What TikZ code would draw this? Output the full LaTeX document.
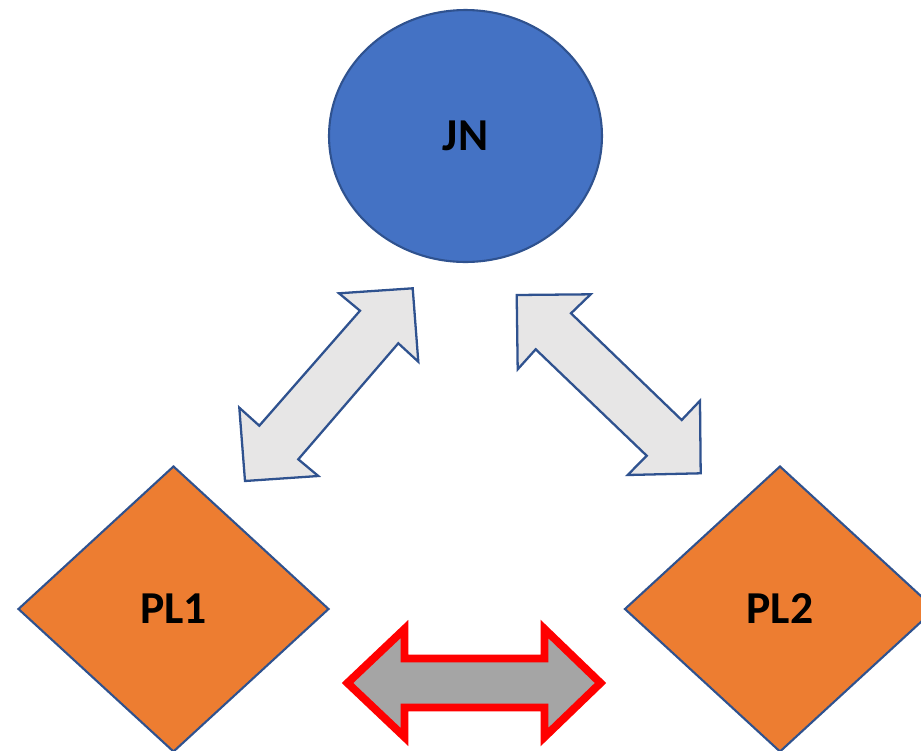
\documentclass[tikz,border=0pt]{standalone}
\usepackage{fontspec}
\setmainfont{Carlito}
\usetikzlibrary{shapes.geometric}
\definecolor{nodeblue}{HTML}{4472C4}
\definecolor{edgeblue}{HTML}{2F528F}
\definecolor{plorange}{HTML}{ED7D31}
\definecolor{arrowgray}{HTML}{E7E6E6}
\definecolor{linkgray}{HTML}{A5A5A5}
\begin{document}
\begin{tikzpicture}[x=0.02cm, y=-0.02cm,
    label text/.style={font=\fontsize{26}{31}\selectfont\bfseries},
    hub/.style={ellipse, draw=edgeblue, fill=nodeblue, line width=1.2pt,
        minimum width=5.46cm, minimum height=5.04cm, inner sep=0pt, label text},
    plnode/.style={diamond, draw=edgeblue, fill=plorange, line width=1.2pt,
        minimum width=6.22cm, minimum height=5.72cm, inner sep=0pt, label text},
    blockarrow/.style={draw=edgeblue, fill=arrowgray, line width=1.3pt, line join=miter},
    peerarrow/.style={draw=red, fill=linkgray, line width=4.5pt, line join=miter}]
    \clip (0,0) rectangle (921,751);

    % Upper node
    \node[hub] (jn) at (465.5,136) {JN};

    % Lower nodes
    \node[plnode] (pl1) at (173.5,609) {PL1};
    \node[plnode] (pl2) at (780,609) {PL2};

    % Arrow between JN and PL1
    \draw[blockarrow] (412.7,288.3) -- (339,293.3) -- (360,310.7) -- (259.3,425.7)
        -- (239.3,407.7) -- (245,481) -- (318.3,476) -- (298.3,459.3)
        -- (398.3,343.3) -- (418.3,361.7) -- cycle;

    % Arrow between JN and PL2
    \draw[blockarrow] (516.7,295) -- (590.7,294.3) -- (571,313.3) -- (681.7,420)
        -- (700,400.7) -- (700.7,473.3) -- (627.7,475) -- (646.7,455.7)
        -- (535.7,349.3) -- (517.7,369.3) -- cycle;

    % Link between PL1 and PL2
    \draw[peerarrow] (347.5,683) -- (404.5,629) -- (404.5,658.5) -- (544.5,658.5)
        -- (544.5,629) -- (600.5,683) -- (544.5,737) -- (544.5,707.5)
        -- (404.5,707.5) -- (404.5,737) -- cycle;

\end{tikzpicture}
\end{document}
